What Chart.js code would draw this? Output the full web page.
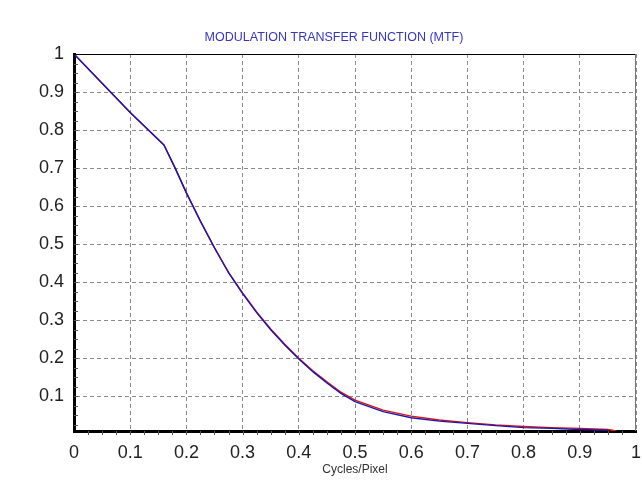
<!DOCTYPE html>
<html>
<head>
<meta charset="utf-8">
<script src="https://cdn.jsdelivr.net/npm/chart.js@4"></script>
<style>
  html, body { margin: 0; padding: 0; background: #fff; }
  #wrap { width: 642px; height: 488px; position: relative; }
</style>
</head>
<body>
<div id="wrap"><canvas id="mtfChart"></canvas></div>
<script>
// data
const freqBlue = [0, 0.05, 0.1, 0.16, 0.18, 0.2, 0.225, 0.25, 0.275, 0.3, 0.325, 0.35, 0.375, 0.4, 0.425, 0.45, 0.475, 0.5, 0.55, 0.6, 0.65, 0.7, 0.75, 0.8, 0.85, 0.9, 0.95];
const mtfBlue = [1, 0.923, 0.846, 0.761, 0.70, 0.635, 0.56, 0.49, 0.425, 0.37, 0.32, 0.275, 0.235, 0.198, 0.165, 0.135, 0.108, 0.086, 0.06, 0.044, 0.035, 0.029, 0.023, 0.018, 0.016, 0.013, 0.011];
const freqRed = [0, 0.05, 0.1, 0.16, 0.18, 0.2, 0.225, 0.25, 0.275, 0.3, 0.325, 0.35, 0.375, 0.4, 0.425, 0.45, 0.475, 0.5, 0.55, 0.6, 0.65, 0.7, 0.75, 0.8, 0.85, 0.9, 0.95, 0.965];
const mtfRed = [1, 0.923, 0.846, 0.761, 0.70, 0.635, 0.561, 0.491, 0.426, 0.372, 0.322, 0.277, 0.237, 0.2, 0.167, 0.138, 0.111, 0.09, 0.064, 0.048, 0.038, 0.031, 0.025, 0.021, 0.018, 0.016, 0.013, 0.009];
const xTicks = [0, 0.1, 0.2, 0.3, 0.4, 0.5, 0.6, 0.7, 0.8, 0.9, 1];
const yTicks = [0.1, 0.2, 0.3, 0.4, 0.5, 0.6, 0.7, 0.8, 0.9, 1];

const titleText = "MODULATION TRANSFER FUNCTION (MTF)";

const toPoints = (xs, ys) => xs.map((x, i) => ({ x: x, y: ys[i] }));

// title, frame and small tick marks
const framePlugin = {
  id: "frame",
  afterDraw(chart) {
    const { ctx, chartArea: a, scales } = chart;
    ctx.save();
    ctx.strokeStyle = "#000";
    ctx.lineWidth = 1;
    ctx.beginPath();
    ctx.moveTo(a.left, a.top + 0.5);
    ctx.lineTo(a.right, a.top + 0.5);
    ctx.stroke();
    ctx.strokeStyle = "#777";
    ctx.beginPath();
    ctx.moveTo(a.right - 0.5, a.top);
    ctx.lineTo(a.right - 0.5, a.bottom);
    ctx.stroke();

    ctx.strokeStyle = "#555";
    for (let v = 0.025; v < 1; v += 0.025) {
      const px = Math.round(scales.x.getPixelForValue(v)) + 0.5;
      ctx.beginPath();
      ctx.moveTo(px, a.bottom);
      ctx.lineTo(px, a.bottom + 4);
      ctx.stroke();
    }
    for (let v = 0.025; v < 1; v += 0.025) {
      const py = scales.y.getPixelForValue(v);
      if (py < a.top || py > a.bottom) continue;
      ctx.beginPath();
      ctx.moveTo(a.left, Math.round(py) + 0.5);
      ctx.lineTo(a.left + 4, Math.round(py) + 0.5);
      ctx.stroke();
    }

    ctx.fillStyle = "#3636c4";
    ctx.font = "12.5px 'Liberation Sans', Arial, sans-serif";
    ctx.textAlign = "center";
    ctx.textBaseline = "middle";
    ctx.fillText(titleText, 334, 38);
    ctx.restore();
  }
};

const ctx = document.getElementById("mtfChart").getContext("2d");
new Chart(ctx, {
  type: "scatter",
  data: {
    datasets: [
      {
        label: "blue",
        data: toPoints(freqBlue, mtfBlue),
        showLine: true,
        borderColor: "#1616b4",
        borderWidth: 1.4,
        pointRadius: 0,
        tension: 0
      },
      {
        label: "red",
        data: toPoints(freqRed, mtfRed),
        showLine: true,
        borderColor: "#e01010",
        borderWidth: 1.4,
        pointRadius: 0,
        tension: 0
      }
    ]
  },
  options: {
    responsive: true,
    maintainAspectRatio: false,
    animation: false,
    layout: { padding: { top: 54, right: 6, bottom: 0, left: 0 } },
    plugins: {
      legend: { display: false },
      title: { display: false },
      tooltip: { enabled: false }
    },
    scales: {
      x: {
        type: "linear",
        min: 0,
        max: 1,
        afterBuildTicks: s => { s.ticks = xTicks.map(v => ({ value: v })); },
        afterFit: s => { s.height = 57; s.paddingLeft = 0; s.paddingRight = 0; },
        ticks: {
          color: "#222",
          font: { family: "'Liberation Sans', Arial", size: 18 },
          padding: 11,
          maxRotation: 0,
          autoSkip: false,
          callback: v => String(v)
        },
        grid: {
          color: "#8a8a8a",
          lineWidth: 1,
          drawTicks: false
        },
        border: { color: "#000", width: 3, dash: [4, 3] },
        title: {
          display: true,
          text: "Cycles/Pixel",
          color: "#333",
          font: { family: "'Liberation Sans', Arial", size: 12 },
          padding: { top: 0, bottom: 11 }
        }
      },
      y: {
        type: "linear",
        min: 0.009,
        max: 1,
        afterBuildTicks: s => { s.ticks = yTicks.map(v => ({ value: v })); },
        afterFit: s => { s.width = 74; s.paddingTop = 0; s.paddingBottom = 0; },
        ticks: {
          color: "#222",
          font: { family: "'Liberation Sans', Arial", size: 18 },
          padding: 10,
          callback: v => String(v)
        },
        grid: {
          color: "#8a8a8a",
          lineWidth: 1,
          drawTicks: false
        },
        border: { color: "#000", width: 3, dash: [4, 3] }
      }
    }
  },
  plugins: [framePlugin]
});
</script>
</body>
</html>
